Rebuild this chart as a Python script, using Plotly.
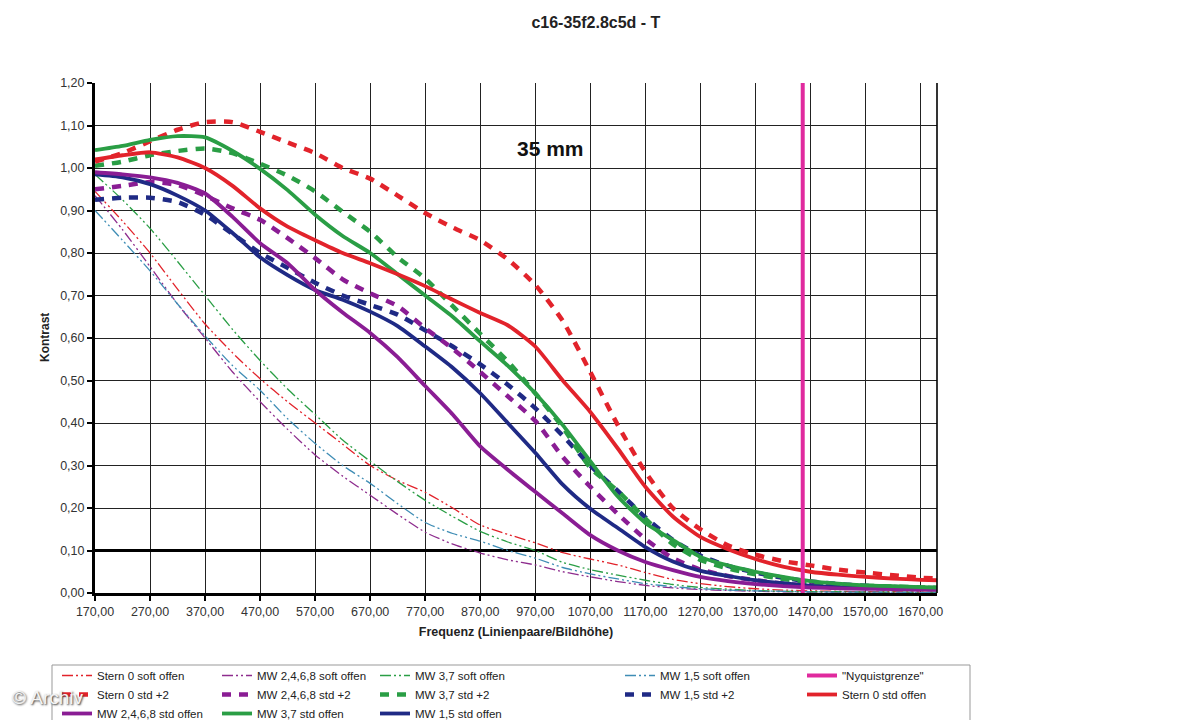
import plotly.graph_objects as go

freq = [170, 220, 270, 320, 370, 420, 470, 520, 570, 620, 670, 720, 770, 820, 870, 920, 970,
        1020, 1070, 1120, 1170, 1220, 1270, 1320, 1370, 1420, 1470, 1520, 1570, 1620, 1670, 1700]

# soft offen
stern0_soft = [0.945, 0.875, 0.80, 0.715, 0.633, 0.565, 0.504, 0.45, 0.40, 0.35, 0.30, 0.265, 0.237, 0.200, 0.160,
               0.138, 0.118, 0.095, 0.080, 0.066, 0.048, 0.032, 0.022, 0.015, 0.010, 0.007, 0.005, 0.004, 0.003, 0.003, 0.002, 0.002]
mw2468_soft = [0.935, 0.855, 0.768, 0.68, 0.60, 0.52, 0.45, 0.385, 0.325, 0.275, 0.23, 0.185, 0.143, 0.115, 0.094,
               0.078, 0.066, 0.050, 0.038, 0.027, 0.018, 0.012, 0.008, 0.006, 0.004, 0.003, 0.002, 0.002, 0.002, 0.001, 0.001, 0.001]
mw37_soft = [0.985, 0.925, 0.858, 0.78, 0.70, 0.62, 0.547, 0.48, 0.42, 0.36, 0.31, 0.262, 0.218, 0.180, 0.145,
             0.120, 0.100, 0.072, 0.055, 0.042, 0.030, 0.020, 0.013, 0.009, 0.006, 0.004, 0.003, 0.003, 0.002, 0.002, 0.002, 0.002]
mw15_soft = [0.90, 0.83, 0.758, 0.68, 0.605, 0.535, 0.477, 0.41, 0.352, 0.30, 0.258, 0.21, 0.166, 0.140, 0.122,
             0.100, 0.082, 0.060, 0.045, 0.033, 0.022, 0.015, 0.010, 0.007, 0.005, 0.004, 0.003, 0.002, 0.002, 0.002, 0.001, 0.001]

# std +2
stern0_std2 = [1.015, 1.035, 1.063, 1.09, 1.108, 1.108, 1.085, 1.06, 1.035, 1.00, 0.975, 0.935, 0.894, 0.86, 0.83,
               0.785, 0.725, 0.64, 0.52, 0.395, 0.285, 0.20, 0.15, 0.112, 0.09, 0.075, 0.065, 0.055, 0.048, 0.042, 0.036, 0.034]
mw2468_std2 = [0.95, 0.958, 0.967, 0.96, 0.935, 0.905, 0.878, 0.835, 0.788, 0.738, 0.705, 0.675, 0.623, 0.575, 0.52,
               0.463, 0.405, 0.32, 0.25, 0.186, 0.127, 0.082, 0.055, 0.040, 0.030, 0.022, 0.017, 0.014, 0.012, 0.010, 0.009, 0.009]
mw37_std2 = [1.005, 1.015, 1.03, 1.04, 1.046, 1.035, 1.01, 0.982, 0.945, 0.897, 0.85, 0.79, 0.74, 0.675, 0.61,
             0.545, 0.47, 0.39, 0.295, 0.24, 0.175, 0.115, 0.078, 0.058, 0.044, 0.033, 0.025, 0.020, 0.017, 0.015, 0.013, 0.012]
mw15_std2 = [0.925, 0.93, 0.93, 0.92, 0.89, 0.845, 0.80, 0.765, 0.73, 0.70, 0.678, 0.655, 0.618, 0.58, 0.538,
             0.49, 0.435, 0.37, 0.30, 0.24, 0.178, 0.125, 0.088, 0.064, 0.048, 0.036, 0.027, 0.021, 0.017, 0.014, 0.012, 0.011]

# std offen
stern0_std = [1.02, 1.03, 1.037, 1.025, 1.00, 0.958, 0.905, 0.862, 0.83, 0.80, 0.776, 0.75, 0.722, 0.69, 0.659,
              0.63, 0.58, 0.50, 0.426, 0.34, 0.25, 0.18, 0.132, 0.103, 0.08, 0.062, 0.05, 0.043, 0.038, 0.034, 0.031, 0.03]
mw2468_std = [0.99, 0.985, 0.978, 0.965, 0.94, 0.885, 0.823, 0.776, 0.713, 0.66, 0.612, 0.555, 0.487, 0.42, 0.345,
              0.29, 0.238, 0.187, 0.136, 0.10, 0.073, 0.054, 0.038, 0.028, 0.021, 0.016, 0.013, 0.011, 0.010, 0.009, 0.008, 0.008]
mw37_std = [1.042, 1.052, 1.066, 1.075, 1.072, 1.04, 0.998, 0.948, 0.89, 0.84, 0.80, 0.75, 0.70, 0.65, 0.592,
            0.535, 0.47, 0.395, 0.31, 0.227, 0.165, 0.125, 0.085, 0.065, 0.05, 0.038, 0.028, 0.022, 0.018, 0.016, 0.014, 0.013]
mw15_std = [0.985, 0.978, 0.962, 0.935, 0.90, 0.847, 0.79, 0.748, 0.713, 0.69, 0.662, 0.628, 0.58, 0.53, 0.47,
            0.40, 0.33, 0.255, 0.198, 0.153, 0.108, 0.074, 0.052, 0.040, 0.030, 0.023, 0.017, 0.014, 0.012, 0.011, 0.010, 0.010]

nyquist_x = [1456, 1456]
nyquist_y = [0.0, 1.2]
limit_x = [170, 1700]
limit_y = [0.10, 0.10]

x_ticks = list(range(170, 1671, 100))
x_ticklabels = [f"{v},00" for v in x_ticks]
y_ticks = [i / 10 for i in range(0, 13)]
y_ticklabels = [f"{v:.2f}".replace(".", ",") for v in y_ticks]

RED = "#e2232b"
GREEN = "#2a9e45"
PURPLE = "#8a1d94"
NAVY = "#1f2a85"
CYAN = "#3f8db5"
PINK = "#e02a9e"
PURPLE_SOFT = "#8e2d8e"

SOFT_DASH = "11px,3px,2px,3px,2px,3px"
STD2_DASH = "9px,8px"

W, H = 1199, 720
L, R, T, B = 95, 262, 83, 127

fig = go.Figure()

# 0.10 reference line
fig.add_trace(go.Scatter(x=limit_x, y=limit_y, mode="lines", line=dict(color="black", width=3.2),
                         showlegend=False, hoverinfo="skip"))

def add(name, y, color, kind, legend, rank):
    if kind == "soft":
        line = dict(color=color, width=1.3, dash=SOFT_DASH, shape="spline", smoothing=0.6)
    elif kind == "std2":
        line = dict(color=color, width=4.5, dash=STD2_DASH, shape="spline", smoothing=0.6)
    else:
        line = dict(color=color, width=3.8, shape="spline", smoothing=0.6)
    fig.add_trace(go.Scatter(x=freq, y=y, mode="lines", name=name, line=line,
                             legend=legend, legendrank=rank))

add("Stern 0 soft offen", stern0_soft, RED, "soft", "legend", 1)
add("MW 2,4,6,8 soft offen", mw2468_soft, PURPLE_SOFT, "soft", "legend2", 1)
add("MW 3,7 soft offen", mw37_soft, GREEN, "soft", "legend3", 1)
add("MW 1,5 soft offen", mw15_soft, CYAN, "soft", "legend4", 1)

add("MW 1,5 std +2", mw15_std2, NAVY, "std2", "legend4", 2)
add("MW 2,4,6,8 std +2", mw2468_std2, PURPLE, "std2", "legend2", 2)
add("MW 3,7 std +2", mw37_std2, GREEN, "std2", "legend3", 2)
add("Stern 0 std +2", stern0_std2, RED, "std2", "legend", 2)

add("MW 1,5 std offen", mw15_std, NAVY, "std", "legend3", 3)
add("MW 2,4,6,8 std offen", mw2468_std, PURPLE, "std", "legend", 3)
add("MW 3,7 std offen", mw37_std, GREEN, "std", "legend2", 3)
add("Stern 0 std offen", stern0_std, RED, "std", "legend5", 2)

fig.add_trace(go.Scatter(x=nyquist_x, y=nyquist_y, mode="lines", name='"Nyquistgrenze"',
                         line=dict(color=PINK, width=4), legend="legend5", legendrank=1))

FONT = "Liberation Sans, Arial, sans-serif"
leg_common = dict(orientation="v", yanchor="top", xanchor="left", y=1 - 661 / H,
                  xref="container", yref="container",
                  bgcolor="rgba(0,0,0,0)", borderwidth=0,
                  font=dict(family=FONT, size=11.5, color="#222"), tracegroupgap=0,
                  traceorder="normal")

def px_x(p):
    return (p - L) / (W - L - R)

def px_y(p):
    return (H - B - p) / (H - T - B)

fig.update_layout(
    width=W, height=H,
    margin=dict(l=L, r=R, t=T, b=B, autoexpand=False),
    paper_bgcolor="white", plot_bgcolor="white",
    font=dict(family=FONT, size=11, color="#333"),
    title=dict(text="<b>c16-35f2.8c5d - T</b>", x=0.497, xref="container", xanchor="center",
               y=1 - 22 / H, yref="container", yanchor="middle",
               font=dict(family=FONT, size=16, color="#222")),
    xaxis=dict(range=[170, 1700], tickvals=x_ticks, ticktext=x_ticklabels,
               showgrid=True, gridcolor="#222", gridwidth=1.4,
               showline=True, linecolor="black", linewidth=3,
               ticks="outside", ticklen=5, tickwidth=2, tickcolor="black",
               tickfont=dict(family=FONT, size=12.5, color="#333"),
               title=dict(text="<b>Frequenz (Linienpaare/Bildhöhe)</b>", standoff=10,
                          font=dict(family=FONT, size=12.5, color="#222")),
               zeroline=False, fixedrange=True),
    yaxis=dict(range=[0, 1.2], tickvals=y_ticks, ticktext=y_ticklabels,
               showgrid=True, gridcolor="#222", gridwidth=1.4,
               showline=True, linecolor="black", linewidth=3,
               ticks="outside", ticklen=5, tickwidth=2, tickcolor="black",
               tickfont=dict(family=FONT, size=12.5, color="#333"),
               zeroline=False, fixedrange=True),
    legend=dict(x=57 / W, **leg_common),
    legend2=dict(x=217 / W, **leg_common),
    legend3=dict(x=375 / W, **leg_common),
    legend4=dict(x=620 / W, **leg_common),
    legend5=dict(x=802 / W, **leg_common),
    annotations=[
        dict(x=997, y=1.047, xref="x", yref="y", text="<b>35 mm</b>", showarrow=False,
             font=dict(family=FONT, size=21, color="#111")),
        dict(x=px_x(45), y=px_y(338), xref="paper", yref="paper", text="<b>Kontrast</b>",
             textangle=-90, showarrow=False, xanchor="center", yanchor="middle",
             font=dict(family=FONT, size=12, color="#222")),
        dict(x=px_x(10), y=px_y(697), xref="paper", yref="paper", text="© Archiv",
             showarrow=False, xanchor="left", yanchor="middle",
             font=dict(family=FONT, size=19, color="#f4f4f4", shadow="1px 1px 2px #333")),
    ],
    shapes=[
        dict(type="line", xref="paper", yref="paper", x0=1, x1=1, y0=0, y1=1,
             line=dict(color="black", width=1.6)),
        dict(type="rect", xref="paper", yref="paper", x0=px_x(52), x1=px_x(970),
             y0=px_y(665), y1=px_y(740), line=dict(color="#999", width=1)),
    ],
)

fig.write_html("out.html")
